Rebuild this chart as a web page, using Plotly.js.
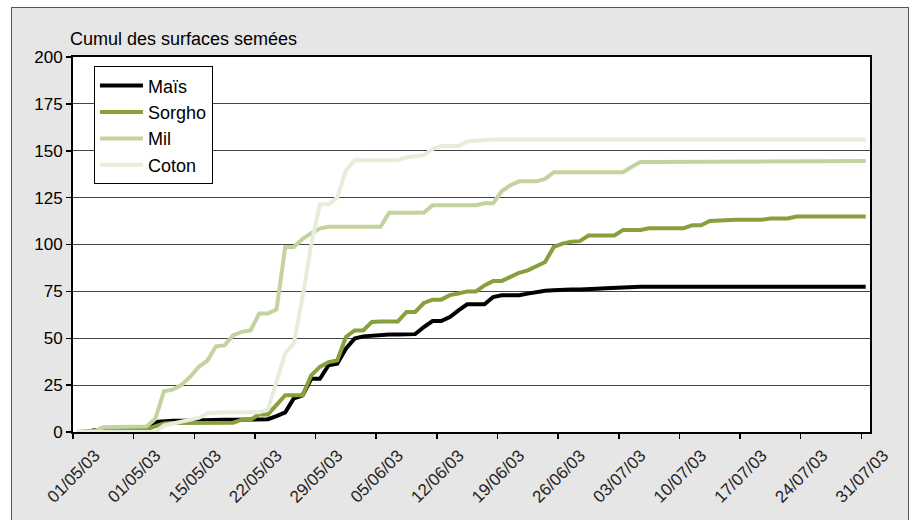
<!DOCTYPE html>
<html><head><meta charset="utf-8">
<script src="https://cdn.plot.ly/plotly-3.0.1.min.js"></script>
<style>
html,body{margin:0;padding:0;background:#fff;overflow:hidden;}
#frame{position:absolute;left:11px;top:7px;width:896px;height:530px;background:#e6e6e6;border:1px solid #555;}
#chart{position:absolute;left:0;top:0;width:914px;height:520px;}
</style></head><body>
<div id="frame"></div>
<div id="chart"></div>
<script>
// Day index 0 = 01/05/03 ... 91 = 31/07/03
const tickLabels = ["01/05/03","01/05/03","15/05/03","22/05/03","29/05/03","05/06/03","12/06/03","19/06/03","26/06/03","03/07/03","10/07/03","17/07/03","24/07/03","31/07/03"];

const mais = [0,0,1,1.5,1.5,1.5,1.5,1.5,1.8,5.3,
  5.8,6,6,6.2,6.5,6.6,6.6,6.6,6.6,6.6,
  6.6,6.6,6.8,8.5,10.5,18,19.6,28.4,28.4,35.6,
  36.4,44.4,49.8,51,51.5,52,52,52,52,52.2,
  56,59.2,59.2,61.3,64.9,68.1,68.1,68.1,72,72.9,
  72.9,72.9,73.8,74.7,75.3,75.6,76,76,76,76,
  76.4,76.7,77,77.4,77.5,77.5,77.5,77.5,77.5,77.5,
  77.5,77.5,77.5,77.5,77.5,77.5,77.5,77.5,77.5,77.5,
  77.5,77.5,77.5,77.5,77.5,77.5,77.5,77.5,77.5,77.5,
  77.5,77.5];

const sorgho = [0,0,0.5,1.2,1.2,1.2,1.2,1.2,1.5,3,
  4.5,4.8,4.8,4.8,4.8,4.8,4.8,4.8,5,6.6,
  6.6,9.4,9.4,14.5,19.6,19.6,19.6,30.2,34.7,37.3,
  38.2,50.7,54.2,54.2,58.7,59,59,59,64,64,
  68.8,70.6,70.6,73,73.9,75,75,78.2,80.6,80.6,
  82.7,84.9,86.2,88.4,90.7,98.7,100.5,101.5,101.8,104.8,
  104.8,104.8,104.8,107.8,107.8,107.8,108.7,108.7,108.7,108.7,
  108.7,110.3,110.3,112.5,112.8,113.2,113.2,113.2,113.2,113.2,
  113.9,113.9,113.9,114.9,114.9,114.9,114.9,114.9,114.9,114.9,
  114.9,114.9];

const mil = [0,0,0.5,2.5,2.5,2.5,3,3,3,7,
  21.7,22.6,25,29.3,34.7,38,45.7,46.2,51.6,53.4,
  54.2,63.2,63.2,65.4,98.7,98.7,103,106,108.5,109.5,
  109.5,109.5,109.5,109.5,109.5,109.5,117,117,117,117,
  117,121,121,121,121,121,121,122,122,128.5,
  131.6,133.7,133.7,133.7,135,138.6,138.6,138.6,138.6,138.6,
  138.6,138.6,138.6,138.6,141.5,144,144,144,144,144,
  144,144,144,144,144,144,144,144,144,144,
  144,144,144,144,144,144,144,144,144.5,144.5,
  144.5,144.5];

const coton = [0,0,0,0,0,0,0,0,0,0,
  3.5,4.5,5.3,6.3,7.5,10,10.5,10.5,10.5,10.5,
  10.5,10.5,12,27,42,47.3,72,100,121.5,121.5,
  125,139.5,145,145,145,145,145,145,146.5,147,
  147.5,151,152.5,152.5,152.5,155,155.5,156,156,156,
  156,156,156,156,156,156,156,156,156,156,
  156,156,156,156,156,156,156,156,156,156,
  156,156,156,156,156,156,156,156,156,156,
  156,156,156,156,156,156,156,156,156,156,
  156,156];

const seriesNames = ["Maïs","Sorgho","Mil","Coton"];
const seriesColors = ["#000000","#87a03b","#c3d39f","#e7edd8"];
const seriesValues = [mais, sorgho, mil, coton];

const days = mais.map((_, i) => i);
const tickVals = tickLabels.map((_, k) => 7*k - 0.5);

const traces = seriesValues.map((vals, s) => ({
  type: 'scatter', mode: 'lines',
  x: days, y: vals,
  name: seriesNames[s],
  legendgroup: 'g' + s,
  line: {color: seriesColors[s], width: 4}
}));

const FONT = 'Arial, "Liberation Sans", Helvetica, sans-serif';
const layout = {
  width: 914, height: 520,
  margin: {l: 73, r: 44, t: 57, b: 88, pad: 0},
  paper_bgcolor: 'rgba(0,0,0,0)',
  plot_bgcolor: '#ffffff',
  font: {family: FONT, size: 17, color: '#000'},
  showlegend: true,
  legend: {
    x: 0.0263, y: 0.975, xanchor: 'left', yanchor: 'top',
    bgcolor: '#ffffff', bordercolor: '#000', borderwidth: 1,
    font: {family: FONT, size: 18, color: '#000'},
    traceorder: 'grouped', tracegroupgap: 0, itemwidth: 43
  },
  xaxis: {
    range: [-0.5, 91.5],
    tickmode: 'array', tickvals: tickVals, ticktext: tickLabels,
    tickangle: -45, ticks: 'outside', ticklen: 5, tickwidth: 1.5, tickcolor: '#000',
    ticklabelshift: 22,
    tickfont: {family: FONT, size: 17, color: '#222'},
    showgrid: false, zeroline: false,
    showline: true, linecolor: '#000', linewidth: 2, mirror: true,
    fixedrange: true
  },
  yaxis: {
    range: [0, 200], tick0: 0, dtick: 25,
    ticks: 'outside', ticklen: 5, tickwidth: 1.5, tickcolor: '#000',
    tickfont: {family: FONT, size: 17, color: '#000'},
    showgrid: true, gridcolor: '#444', gridwidth: 1,
    zeroline: false,
    showline: true, linecolor: '#000', linewidth: 2, mirror: true,
    fixedrange: true
  },
  annotations: [{
    text: 'Cumul des surfaces semées',
    xref: 'paper', yref: 'paper', x: 0, y: 1,
    xanchor: 'left', yanchor: 'bottom', xshift: -5, yshift: 6,
    showarrow: false, font: {family: FONT, size: 18, color: '#000'}
  }]
};

Plotly.newPlot('chart', traces, layout, {displayModeBar: false, staticPlot: true});
</script>
</body></html>
